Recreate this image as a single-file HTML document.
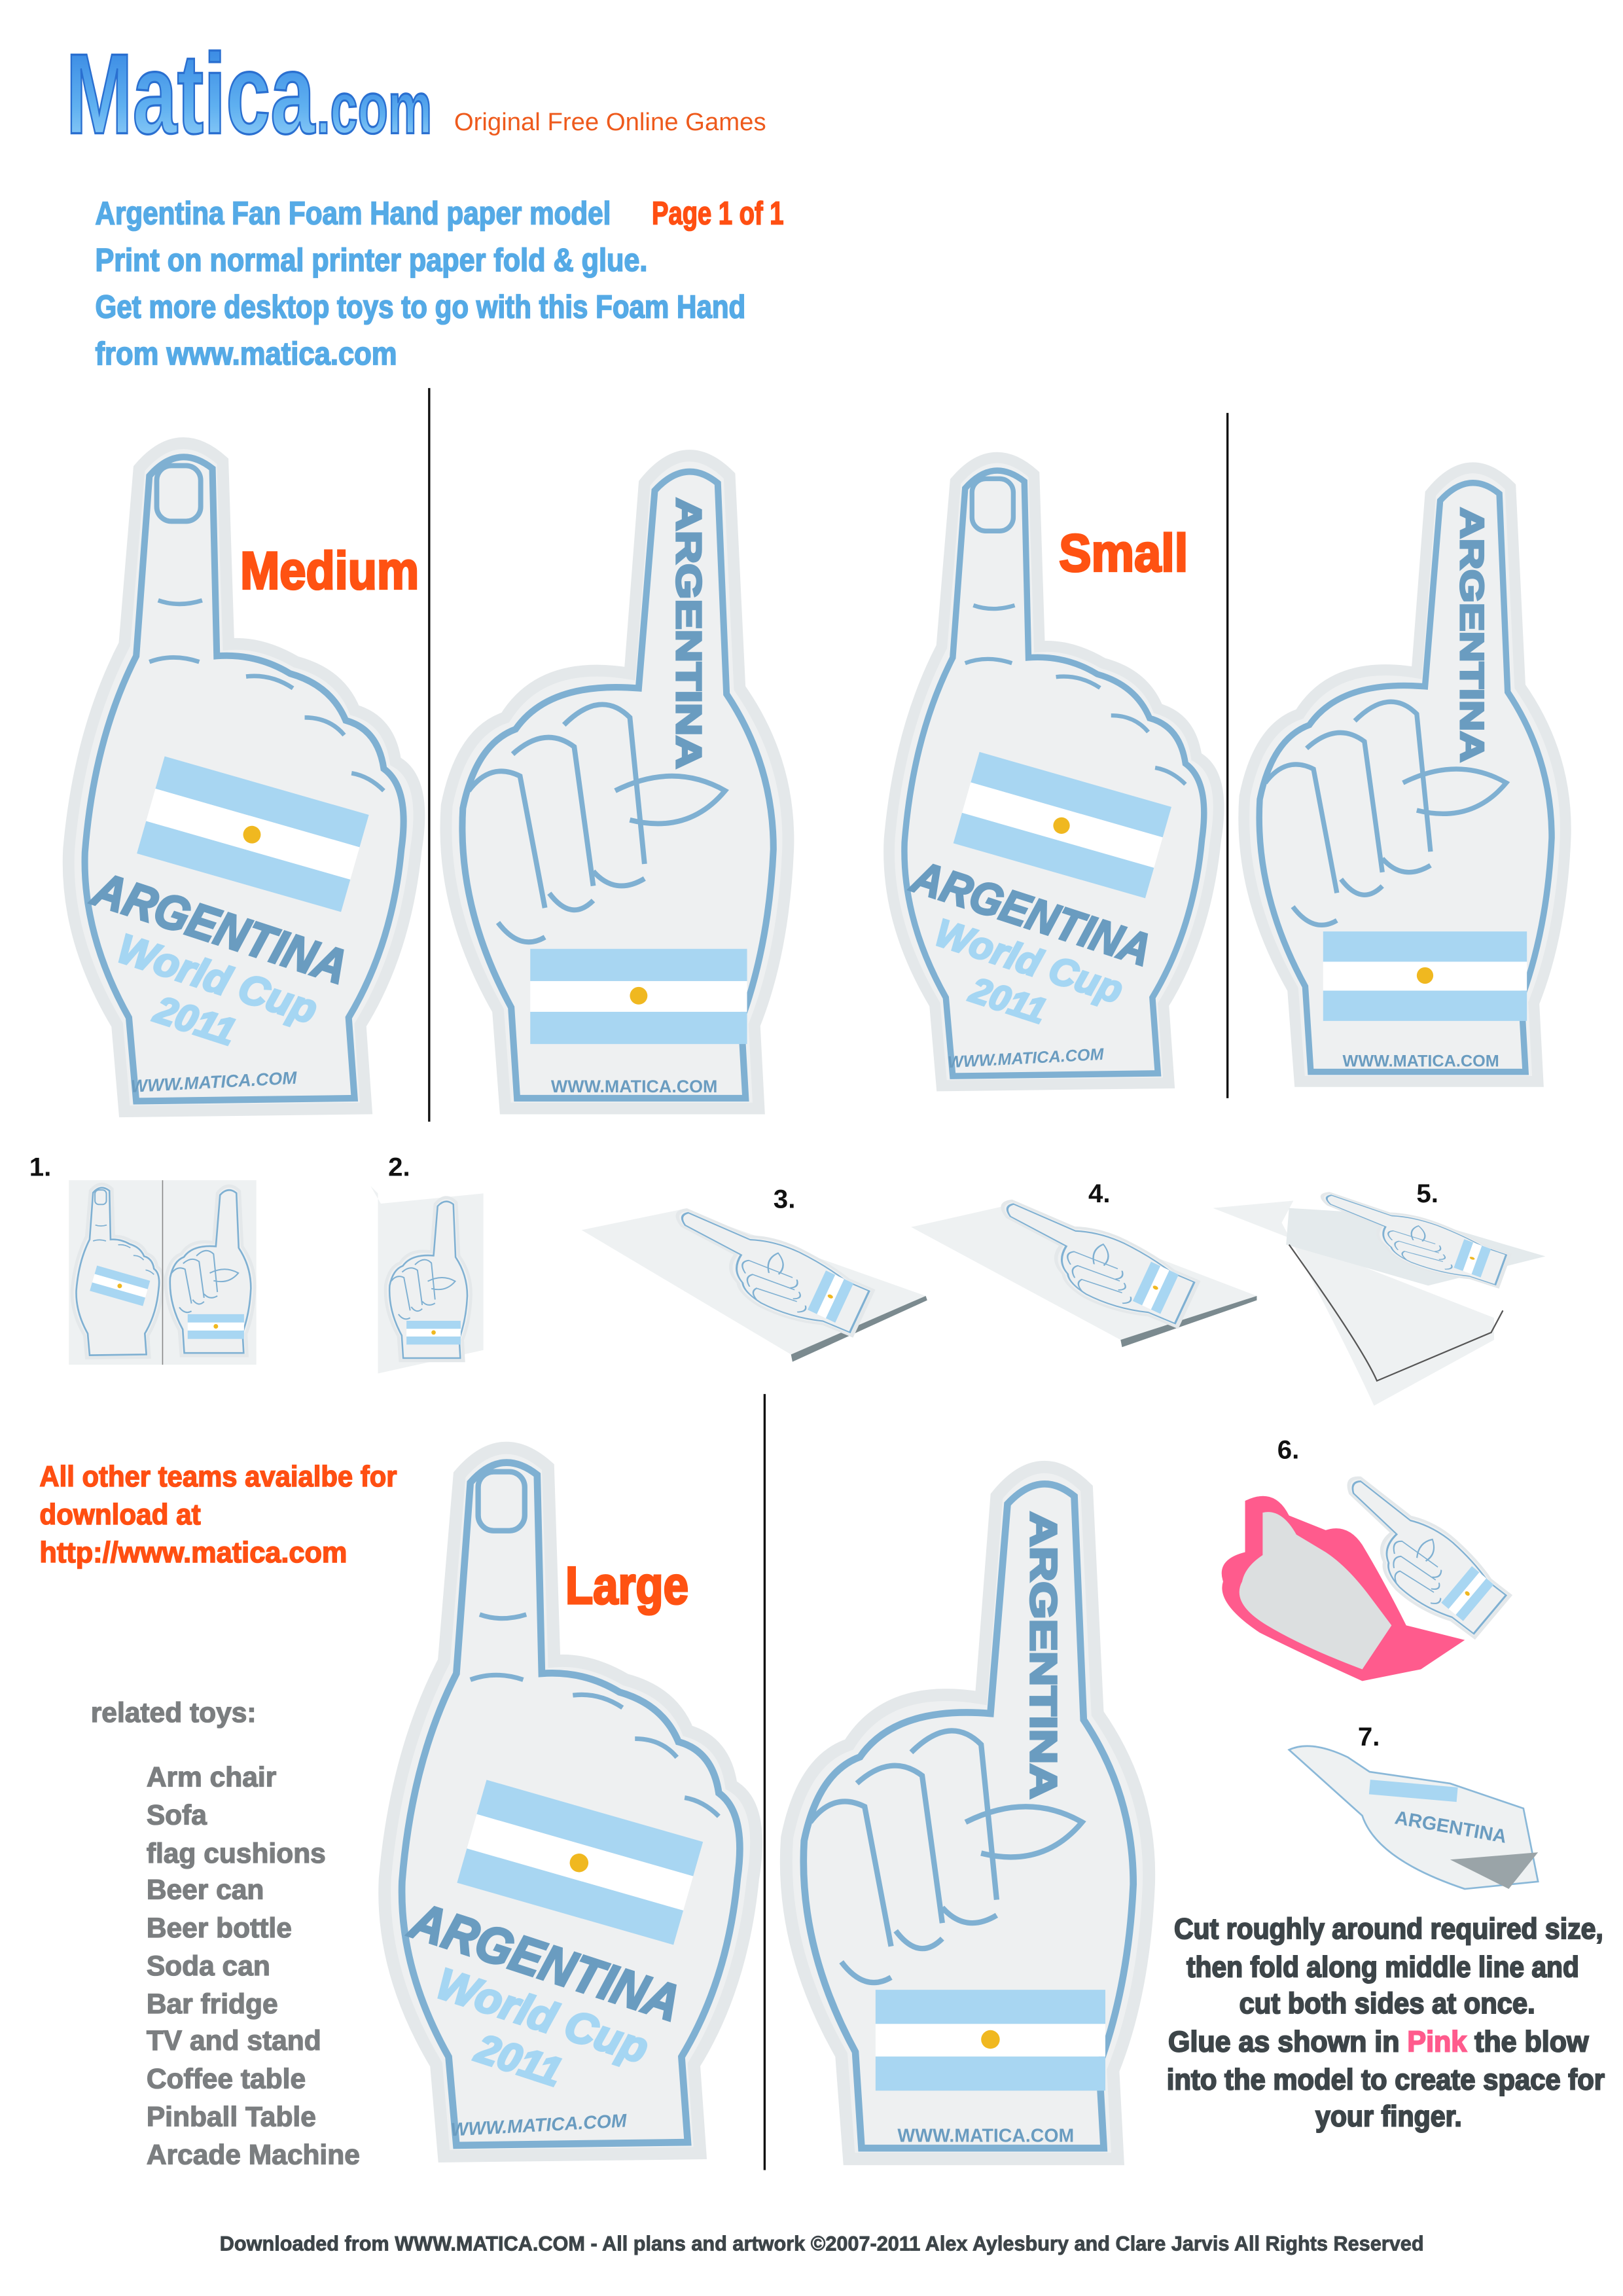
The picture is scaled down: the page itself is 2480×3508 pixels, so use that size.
<!DOCTYPE html>
<html><head><meta charset="utf-8"><style>
html,body{margin:0;padding:0;background:#fff}
svg{display:block}
.nar{font-family:"Liberation Sans Narrow","Liberation Sans",sans-serif;font-weight:bold}
.sans{font-family:"Liberation Sans",sans-serif}
</style></head><body>
<svg width="2480" height="3508" viewBox="0 0 1108 1568" preserveAspectRatio="none" xmlns="http://www.w3.org/2000/svg">
<defs>
<linearGradient id="lg" x1="0" y1="0" x2="0" y2="1">
<stop offset="0" stop-color="#2f7fe0"/><stop offset="0.6" stop-color="#5fb0f0"/><stop offset="1" stop-color="#9ed6fb"/>
</linearGradient>
<g id="front">
<path d="M95 320 Q122 288 152 315 L156 440 Q178 438 202 452 Q232 460 242 485 Q266 492 270 520 Q292 532 284 580 Q277 650 246 700 L250 757 L85 759 L80 700 Q44 640 47 580 Q54 500 85 440 Z" fill="#eef0f1" stroke="#e4e8ea" stroke-width="8"/>
<path d="M102 325 Q122 302 145 320 L148 448 Q175 446 198 460 Q226 468 236 492 Q258 498 262 525 Q280 538 274 580 Q268 645 238 695 L242 750 L93 752 L88 695 Q56 638 58 582 Q64 505 93 448 Z" fill="none" stroke="#7fb0d2" stroke-width="4.5"/>
<rect x="107" y="318" width="30" height="38" rx="10" fill="none" stroke="#7fb0d2" stroke-width="3.5"/>
<path d="M108 410 Q122 415 138 410 M102 452 Q118 446 136 452 M168 462 Q185 460 200 470 M208 490 Q225 490 235 502 M240 528 Q252 530 262 540" fill="none" stroke="#7fb0d2" stroke-width="3"/>
<g transform="rotate(16 172 570)">
<rect x="100" y="535" width="145" height="23" fill="#a8d6f2"/>
<rect x="100" y="558" width="145" height="23" fill="#ffffff"/>
<rect x="100" y="581" width="145" height="23" fill="#a8d6f2"/>
<circle cx="172" cy="570" r="6" fill="#f0b820"/>
</g>
</g>
<g id="back">
<path d="M440 330 Q468 295 498 325 L505 470 Q540 520 538 580 Q535 650 515 700 L518 757 L345 757 L340 690 Q300 620 305 550 Q315 500 345 490 Q370 450 430 460 Z" fill="#eef0f1" stroke="#e4e8ea" stroke-width="8"/>
<path d="M447 335 Q468 312 490 330 L496 474 Q528 522 528 580 Q525 645 506 697 L509 750 L353 750 L349 688 Q312 620 316 552 Q325 508 352 498 Q375 465 436 470 Z" fill="none" stroke="#7fb0d2" stroke-width="4.5"/>
<path d="M320 540 Q335 520 355 530 L372 620 M350 515 Q372 495 392 510 L405 605 M385 495 Q410 470 430 490 L440 590 M420 540 Q460 520 495 540 Q470 570 430 560 M340 630 Q355 650 372 640 M375 610 Q390 630 405 615 M405 595 Q420 612 440 600" fill="none" stroke="#7fb0d2" stroke-width="3.5"/>
<rect x="362" y="648" width="148" height="22" fill="#a8d6f2"/>
<rect x="362" y="670" width="148" height="21" fill="#fff"/>
<rect x="362" y="691" width="148" height="22" fill="#a8d6f2"/>
<circle cx="436" cy="680" r="6" fill="#f0b820"/>
</g>
</defs>

<!-- header -->
<text x="45" y="91" class="nar" font-size="78" fill="url(#lg)" stroke="#2a6fd0" stroke-width="1.5" textLength="170" lengthAdjust="spacingAndGlyphs">Matica</text>
<text x="216" y="91" class="nar" font-size="50" fill="url(#lg)" stroke="#2a6fd0" stroke-width="1.5" textLength="79" lengthAdjust="spacingAndGlyphs">.com</text>
<text x="310" y="89" class="sans" font-size="17" fill="#ee5a1c" textLength="213" lengthAdjust="spacingAndGlyphs">Original Free Online Games</text>
<g class="nar" font-size="22" fill="#55aae6" stroke="#55aae6" stroke-width="0.8">
<text x="65" y="153" textLength="352" lengthAdjust="spacingAndGlyphs">Argentina Fan Foam Hand paper model</text>
<text x="445" y="153" fill="#ff4f12" stroke="#ff4f12" textLength="90" lengthAdjust="spacingAndGlyphs">Page 1 of 1</text>
<text x="65" y="185" textLength="377" lengthAdjust="spacingAndGlyphs">Print on normal printer paper fold &amp; glue.</text>
<text x="65" y="217" textLength="444" lengthAdjust="spacingAndGlyphs">Get more desktop toys to go with this Foam Hand</text>
<text x="65" y="249" textLength="206" lengthAdjust="spacingAndGlyphs">from www.matica.com</text>
</g>

<!-- separators -->
<g stroke="#111" stroke-width="1.5">
<line x1="293" y1="265" x2="293" y2="766"/>
<line x1="838" y1="282" x2="838" y2="750"/>
<line x1="522" y1="952" x2="522" y2="1482"/>
</g>

<!-- hand instances -->
<g>
<use href="#front"/>
<g class="sans" font-weight="bold" font-style="italic">
<text x="150" y="645" font-size="33" fill="#6a9cc0" stroke="#6a9cc0" stroke-width="1.5" text-anchor="middle" transform="rotate(18 150 635)" textLength="180" lengthAdjust="spacingAndGlyphs">ARGENTINA</text>
<text x="148" y="678" font-size="28" fill="#a5d6f3" stroke="#a5d6f3" stroke-width="1.5" text-anchor="middle" transform="rotate(18 148 670)">World Cup</text>
<text x="133" y="706" font-size="26" fill="#a5d6f3" stroke="#a5d6f3" stroke-width="1.5" text-anchor="middle" transform="rotate(18 133 698)">2011</text>
<text x="146" y="743" font-size="12" fill="#6a9cc0" text-anchor="middle" transform="rotate(-3 146 740)">WWW.MATICA.COM</text>
</g>
</g>
<g class="sans" font-weight="bold">
<use href="#back"/>
<text x="470" y="340" font-size="24" fill="#6a9cc0" stroke="#6a9cc0" stroke-width="1.5" transform="rotate(90 470 340)" dy="8" textLength="185" lengthAdjust="spacingAndGlyphs">ARGENTINA</text>
<text x="433" y="746" font-size="12" fill="#6a9cc0" text-anchor="middle">WWW.MATICA.COM</text>
</g>

<g transform="translate(563 28) scale(0.94)">
<use href="#front"/>
<g class="sans" font-weight="bold" font-style="italic">
<text x="150" y="645" font-size="33" fill="#6a9cc0" stroke="#6a9cc0" stroke-width="1.5" text-anchor="middle" transform="rotate(18 150 635)" textLength="180" lengthAdjust="spacingAndGlyphs">ARGENTINA</text>
<text x="148" y="678" font-size="28" fill="#a5d6f3" stroke="#a5d6f3" stroke-width="1.5" text-anchor="middle" transform="rotate(18 148 670)">World Cup</text>
<text x="133" y="706" font-size="26" fill="#a5d6f3" stroke="#a5d6f3" stroke-width="1.5" text-anchor="middle" transform="rotate(18 133 698)">2011</text>
<text x="146" y="743" font-size="12" fill="#6a9cc0" text-anchor="middle" transform="rotate(-3 146 740)">WWW.MATICA.COM</text>
</g>
</g>
<g transform="translate(563 27) scale(0.94)" class="sans" font-weight="bold">
<use href="#back"/>
<text x="470" y="340" font-size="24" fill="#6a9cc0" stroke="#6a9cc0" stroke-width="1.5" transform="rotate(90 470 340)" dy="8" textLength="185" lengthAdjust="spacingAndGlyphs">ARGENTINA</text>
<text x="433" y="746" font-size="12" fill="#6a9cc0" text-anchor="middle">WWW.MATICA.COM</text>
</g>

<g transform="translate(213 668) scale(1.06)">
<use href="#front"/>
<g class="sans" font-weight="bold" font-style="italic">
<text x="150" y="645" font-size="33" fill="#6a9cc0" stroke="#6a9cc0" stroke-width="1.5" text-anchor="middle" transform="rotate(18 150 635)" textLength="180" lengthAdjust="spacingAndGlyphs">ARGENTINA</text>
<text x="148" y="678" font-size="28" fill="#a5d6f3" stroke="#a5d6f3" stroke-width="1.5" text-anchor="middle" transform="rotate(18 148 670)">World Cup</text>
<text x="133" y="706" font-size="26" fill="#a5d6f3" stroke="#a5d6f3" stroke-width="1.5" text-anchor="middle" transform="rotate(18 133 698)">2011</text>
<text x="146" y="743" font-size="12" fill="#6a9cc0" text-anchor="middle" transform="rotate(-3 146 740)">WWW.MATICA.COM</text>
</g>
</g>
<g transform="translate(214 672) scale(1.06)" class="sans" font-weight="bold">
<use href="#back"/>
<text x="470" y="340" font-size="24" fill="#6a9cc0" stroke="#6a9cc0" stroke-width="1.5" transform="rotate(90 470 340)" dy="8" textLength="185" lengthAdjust="spacingAndGlyphs">ARGENTINA</text>
<text x="433" y="746" font-size="12" fill="#6a9cc0" text-anchor="middle">WWW.MATICA.COM</text>
</g>

<!-- size labels -->
<g class="nar" font-size="36" fill="#ff5212" stroke="#ff5212" stroke-width="1.5" text-anchor="middle">
<text x="225" y="402" textLength="122" lengthAdjust="spacingAndGlyphs">Medium</text>
<text x="767" y="390" textLength="88" lengthAdjust="spacingAndGlyphs">Small</text>
<text x="428" y="1095" textLength="84" lengthAdjust="spacingAndGlyphs">Large</text>
</g>

<!-- step images -->
<g>
<rect x="47" y="806" width="128" height="126" fill="#eef1f2"/>
<g transform="translate(37 730) scale(0.26)"><use href="#front"/></g>
<g transform="translate(34 729) scale(0.26)"><use href="#back"/></g>
<line x1="111" y1="806" x2="111" y2="932" stroke="#888" stroke-width="0.7"/>
<path d="M253 810 L258 815 L258 938 L330 922 L330 815 L260 822 Z" fill="#eef1f2"/>
<g transform="translate(187 740) scale(0.25)"><use href="#back"/></g>
<path d="M397 840 L465 826 L632 885 L540 925 Z" fill="#eef1f2"/>
<path d="M540 925 L632 885 L633 888 L541 930Z" fill="#7b8a8f"/>
<g transform="translate(522 868) rotate(-65) scale(0.2 0.32) translate(-420 -530)"><use href="#back"/></g>
<path d="M622 838 L693 822 L858 885 L765 915 Z" fill="#eef1f2"/>
<path d="M765 915 L858 885 L858 888 L766 920Z" fill="#7b8a8f"/>
<g transform="translate(744 862) rotate(-65) scale(0.2 0.32) translate(-420 -530)"><use href="#back"/></g>
<path d="M828 825 L883 820 L875 835 Q920 920 938 960 L1020 915 L1020 900 Z" fill="#eef1f2"/>
<path d="M878 850 L880 825 L960 830 L1055 858 L975 878 Z" fill="#e4eaec"/>
<path d="M880 850 Q930 920 940 943 L1018 910 L1026 895" fill="none" stroke="#555" stroke-width="1"/>
<g transform="translate(962 846) rotate(-70) scale(0.14 0.3) translate(-420 -530)"><use href="#back"/></g>
<!-- 6 -->
<path d="M850 1025 Q870 1015 880 1035 L905 1045 Q920 1040 930 1055 Q945 1080 960 1110 L1000 1120 L970 1140 L930 1148 Q890 1130 860 1115 Q830 1095 835 1080 Q830 1065 850 1060 Z" fill="#ff5b8d"/>
<path d="M862 1033 Q875 1030 885 1048 L905 1060 Q920 1070 935 1090 L950 1110 L930 1140 Q890 1125 865 1110 Q840 1095 848 1080 Q850 1070 862 1062 Z" fill="#dcdfe0"/>
<g transform="translate(965 1062) rotate(-50) scale(0.22 0.3) translate(-420 -530)"><use href="#back"/></g>
<!-- 7 -->
<path d="M880 1195 Q895 1188 920 1200 L935 1210 L990 1218 L1040 1235 L1050 1285 L1000 1290 Q940 1270 930 1240 Z" fill="#eef1f2" stroke="#8ab8d8" stroke-width="1.2"/>
<path d="M990 1270 L1050 1265 L1030 1290 Z" fill="#9aa4a8"/>
<rect x="935" y="1218" width="60" height="10" fill="#a8d6f2" transform="rotate(5 965 1222)"/>
<text x="990" y="1252" class="sans" font-weight="bold" font-size="13" fill="#6a9cc0" text-anchor="middle" transform="rotate(10 990 1250)">ARGENTINA</text>
</g>

<!-- step numbers -->
<g class="nar" font-size="18" fill="#111">
<text x="20" y="803">1.</text><text x="265" y="803">2.</text>
<text x="528" y="825">3.</text><text x="743" y="821">4.</text><text x="967" y="821">5.</text>
<text x="872" y="996">6.</text><text x="927" y="1192">7.</text>
</g>

<!-- left text -->
<g class="nar" font-size="20" fill="#ff4f12" stroke="#ff4f12" stroke-width="0.7">
<text x="27" y="1015" textLength="244" lengthAdjust="spacingAndGlyphs">All other teams avaialbe for</text>
<text x="27" y="1041" textLength="110" lengthAdjust="spacingAndGlyphs">download at</text>
<text x="27" y="1067" textLength="210" lengthAdjust="spacingAndGlyphs">http://www.matica.com</text>
</g>
<g class="nar" font-size="19" fill="#7b7e80" stroke="#7b7e80" stroke-width="0.6">
<text x="62" y="1176">related toys:</text>
<text x="100" y="1220">Arm chair</text>
<text x="100" y="1246">Sofa</text>
<text x="100" y="1272">flag cushions</text>
<text x="100" y="1297">Beer can</text>
<text x="100" y="1323">Beer bottle</text>
<text x="100" y="1349">Soda can</text>
<text x="100" y="1375">Bar fridge</text>
<text x="100" y="1400">TV and stand</text>
<text x="100" y="1426">Coffee table</text>
<text x="100" y="1452">Pinball Table</text>
<text x="100" y="1478">Arcade Machine</text>
</g>

<!-- instructions -->
<g class="nar" font-size="20" fill="#3d4549" stroke="#3d4549" stroke-width="0.9" text-anchor="middle">
<text x="948" y="1324" textLength="293" lengthAdjust="spacingAndGlyphs">Cut roughly around required size,</text>
<text x="944" y="1350" textLength="268" lengthAdjust="spacingAndGlyphs">then fold along middle line and</text>
<text x="947" y="1375" textLength="202" lengthAdjust="spacingAndGlyphs">cut both sides at once.</text>
<text x="941" y="1401" textLength="287" lengthAdjust="spacingAndGlyphs">Glue as shown in <tspan fill="#ff5b8d" stroke="#ff5b8d">Pink</tspan> the blow</text>
<text x="946" y="1427" textLength="299" lengthAdjust="spacingAndGlyphs">into the model to create space for</text>
<text x="948" y="1452" textLength="100" lengthAdjust="spacingAndGlyphs">your finger.</text>
</g>

<text x="561" y="1537" class="nar" font-size="14" fill="#3d4549" stroke="#3d4549" stroke-width="0.4" text-anchor="middle" textLength="822" lengthAdjust="spacingAndGlyphs">Downloaded from WWW.MATICA.COM - All plans and artwork ©2007-2011 Alex Aylesbury and Clare Jarvis All Rights Reserved</text>
</svg>
</body></html>
